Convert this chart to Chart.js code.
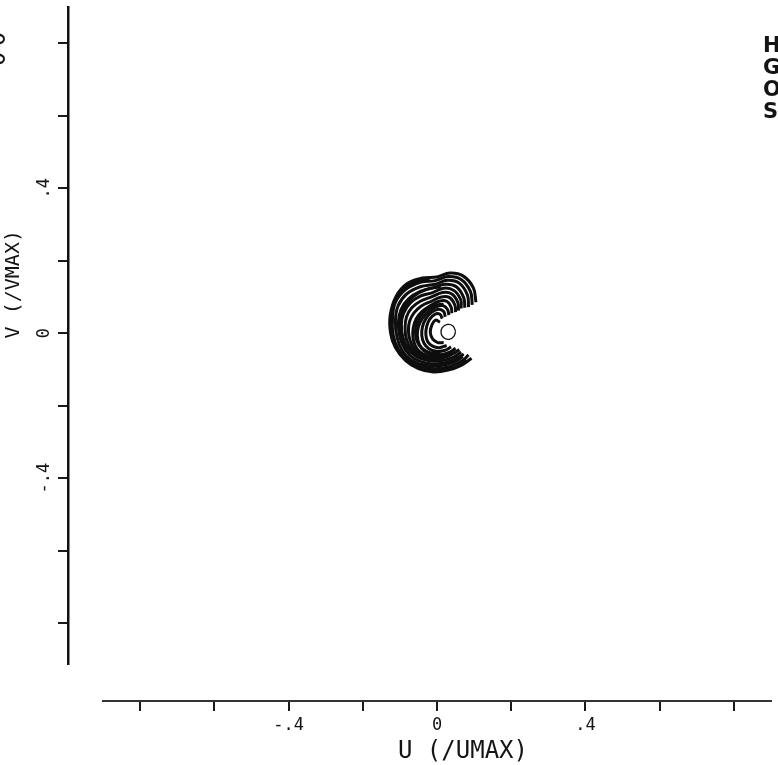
<!DOCTYPE html>
<html>
<head>
<meta charset="utf-8">
<script src="https://cdn.jsdelivr.net/npm/chart.js@4"></script>
<style>
  html, body { margin: 0; padding: 0; background: #fff; }
  #wrap { width: 778px; height: 765px; }
</style>
</head>
<body>
<div id="wrap"><canvas id="plot"></canvas></div>
<script>
// hodograph traces as [u, v] pairs, both normalised (U/UMAX, V/VMAX)
const arc1 = [[0.105, 0.085], [0.098, 0.125], [0.070, 0.158], [0.035, 0.166], [0.000, 0.155], [-0.040, 0.152], [-0.080, 0.137], [-0.110, 0.102], [-0.126, 0.050], [-0.125, 0.000], [-0.112, -0.040], [-0.085, -0.075], [-0.050, -0.098], [-0.010, -0.107], [0.030, -0.102], [0.065, -0.089], [0.093, -0.069]];
const arc1b = [[-0.020, 0.150], [-0.060, 0.141], [-0.095, 0.115], [-0.118, 0.075], [-0.124, 0.025], [-0.118, -0.022], [-0.098, -0.060], [-0.066, -0.088], [-0.028, -0.102], [0.012, -0.102], [0.050, -0.094], [0.080, -0.076]];
const arc2 = [[0.095, 0.078], [0.090, 0.115], [0.065, 0.148], [0.030, 0.156], [-0.005, 0.145], [-0.045, 0.140], [-0.085, 0.120], [-0.112, 0.085], [-0.120, 0.040], [-0.118, -0.005], [-0.104, -0.045], [-0.078, -0.075], [-0.045, -0.092], [-0.005, -0.098], [0.035, -0.092], [0.070, -0.075], [0.085, -0.060]];
const arc3 = [[0.085, 0.072], [0.082, 0.105], [0.060, 0.138], [0.028, 0.146], [-0.005, 0.135], [-0.045, 0.128], [-0.082, 0.108], [-0.105, 0.075], [-0.112, 0.035], [-0.108, -0.010], [-0.094, -0.048], [-0.070, -0.074], [-0.035, -0.088], [0.005, -0.090], [0.040, -0.082], [0.070, -0.065]];
const arc4 = [[0.075, 0.070], [0.072, 0.098], [0.052, 0.128], [0.022, 0.135], [-0.010, 0.125], [-0.045, 0.115], [-0.076, 0.095], [-0.097, 0.065], [-0.104, 0.030], [-0.100, -0.010], [-0.086, -0.045], [-0.062, -0.070], [-0.030, -0.082], [0.008, -0.084], [0.045, -0.074], [0.072, -0.058]];
const arc4b = [[0.010, 0.128], [-0.030, 0.120], [-0.065, 0.100], [-0.090, 0.068], [-0.100, 0.030], [-0.097, -0.008], [-0.082, -0.040], [-0.058, -0.062], [-0.025, -0.074], [0.010, -0.072]];
const arc5 = [[0.065, 0.068], [0.064, 0.092], [0.045, 0.118], [0.018, 0.124], [-0.012, 0.112], [-0.045, 0.102], [-0.072, 0.083], [-0.090, 0.055], [-0.096, 0.025], [-0.092, -0.012], [-0.078, -0.043], [-0.055, -0.064], [-0.025, -0.075], [0.010, -0.076], [0.045, -0.066], [0.065, -0.052]];
const arc6 = [[0.058, 0.062], [0.056, 0.085], [0.040, 0.108], [0.015, 0.112], [-0.015, 0.100], [-0.045, 0.088], [-0.068, 0.070], [-0.082, 0.045], [-0.086, 0.015], [-0.082, -0.018], [-0.068, -0.045], [-0.046, -0.062], [-0.018, -0.070], [0.015, -0.068], [0.045, -0.056], [0.060, -0.045]];
const arc7 = [[0.050, 0.058], [0.048, 0.078], [0.034, 0.098], [0.012, 0.100], [-0.015, 0.088], [-0.042, 0.075], [-0.062, 0.056], [-0.074, 0.032], [-0.077, 0.005], [-0.072, -0.022], [-0.060, -0.045], [-0.040, -0.060], [-0.014, -0.065], [0.015, -0.062], [0.040, -0.050]];
const arc8 = [[0.040, 0.055], [0.038, 0.072], [0.026, 0.088], [0.006, 0.088], [-0.018, 0.076], [-0.040, 0.060], [-0.056, 0.040], [-0.064, 0.015], [-0.065, -0.010], [-0.059, -0.034], [-0.046, -0.052], [-0.026, -0.062], [0.000, -0.064], [0.028, -0.058], [0.048, -0.044]];
const arc8b = [[0.018, 0.080], [-0.010, 0.075], [-0.035, 0.058], [-0.052, 0.034], [-0.058, 0.006], [-0.054, -0.022], [-0.040, -0.042], [-0.018, -0.054], [0.010, -0.055]];
const arc9 = [[0.032, 0.050], [0.028, 0.066], [0.016, 0.076], [-0.004, 0.072], [-0.024, 0.058], [-0.040, 0.040], [-0.050, 0.018], [-0.053, -0.006], [-0.048, -0.030], [-0.036, -0.048], [-0.016, -0.058], [0.008, -0.060], [0.032, -0.054], [0.050, -0.042]];
const arc10 = [[0.022, 0.045], [0.018, 0.060], [0.004, 0.066], [-0.014, 0.058], [-0.030, 0.040], [-0.039, 0.018], [-0.041, -0.006], [-0.035, -0.028], [-0.022, -0.043], [-0.002, -0.050], [0.020, -0.048], [0.038, -0.038]];
const arc11 = [[0.014, 0.040], [0.008, 0.052], [-0.006, 0.052], [-0.020, 0.038], [-0.028, 0.018], [-0.030, -0.004], [-0.025, -0.024], [-0.012, -0.036], [0.006, -0.040], [0.026, -0.034]];
const arc12 = [[0.008, 0.030], [-0.004, 0.036], [-0.014, 0.022], [-0.018, 0.002], [-0.012, -0.016], [0.002, -0.026], [0.018, -0.026]];
const loop = [[0.050, 0.005], [0.043, 0.020], [0.028, 0.024], [0.014, 0.015], [0.011, 0.000], [0.018, -0.013], [0.033, -0.017], [0.046, -0.008], [0.050, 0.005]];

const uTicks = [-0.8, -0.6, -0.4, -0.2, 0, 0.2, 0.4, 0.6, 0.8];
const uTickLabels = ['', '', '-.4', '', '0', '', '.4', '', ''];
const vTicks = [-0.8, -0.6, -0.4, -0.2, 0, 0.2, 0.4, 0.6, 0.8];
const vTickLabels = ['', '', '-.4', '', '0', '', '.4', '', ''];
const uTitle = 'U (/UMAX)';
const vTitle = 'V (/VMAX)';
const sideLetters = ['H', 'G', 'O', 'S'];
const edgeLetters = ['0', '0'];

const traces = [arc1, arc1b, arc2, arc3, arc4, arc4b, arc5, arc6, arc7, arc8, arc8b, arc9, arc10, arc11, arc12, loop];

const datasets = traces.map(pts => ({
  data: pts.map(([u, v]) => ({ x: u, y: v })),
  xAxisID: 'x',
  yAxisID: 'y',
  showLine: true,
  fill: false,
  tension: 0.4,
  borderColor: '#0e0e0e',
  borderWidth: pts === loop ? 1.3 : 3,
  pointRadius: 0,
  pointHoverRadius: 0
}));

const mono = 'DejaVu Sans Mono';

// axis titles and the clipped captions at the page edges
const captions = {
  id: 'captions',
  afterDraw(chart) {
    const { ctx, scales: { x, y } } = chart;
    ctx.save();
    ctx.fillStyle = '#141414';
    ctx.textAlign = 'center';
    ctx.textBaseline = 'middle';

    ctx.font = '24px "' + mono + '"';
    ctx.fillText(uTitle, x.getPixelForValue(0.07), 752);

    ctx.save();
    ctx.translate(14, y.getPixelForValue(0.135));
    ctx.rotate(-Math.PI / 2);
    ctx.font = '20px "' + mono + '"';
    ctx.fillText(vTitle, 0, 0);
    ctx.restore();

    edgeLetters.forEach((ch, i) => {
      ctx.save();
      ctx.translate(-1, 59 - i * 20);
      ctx.rotate(-Math.PI / 2);
      ctx.font = '24px "' + mono + '"';
      ctx.fillText(ch, 0, 0);
      ctx.restore();
    });

    ctx.textAlign = 'left';
    ctx.font = 'bold 21px "DejaVu Sans"';
    sideLetters.forEach((ch, i) => {
      ctx.fillText(ch, 763, 47 + i * 21.7);
    });
    ctx.restore();
  }
};

new Chart(document.getElementById('plot'), {
  type: 'scatter',
  data: { datasets },
  plugins: [captions],
  options: {
    responsive: true,
    maintainAspectRatio: false,
    animation: false,
    layout: { padding: { left: 0, right: 7, top: 7, bottom: 0 } },
    plugins: { legend: { display: false }, tooltip: { enabled: false } },
    scales: {
      x: {
        type: 'linear',
        axis: 'x',
        position: 'bottom',
        weight: 1,
        min: -0.9,
        max: 0.9,
        afterBuildTicks: s => { s.ticks = uTicks.map(value => ({ value })); },
        afterFit: s => { s.height = 64; s.paddingLeft = 0; s.paddingRight = 0; },
        ticks: {
          autoSkip: false,
          minRotation: 0,
          maxRotation: 0,
          padding: 4,
          color: '#141414',
          font: { family: mono, size: 17 },
          callback: (val, i) => uTickLabels[i]
        },
        grid: { drawOnChartArea: false, drawTicks: true, tickLength: 10, color: '#1a1a1a', lineWidth: 2 },
        border: { display: true, color: '#333', width: 2 }
      },
      xGap: {
        type: 'linear',
        axis: 'x',
        position: 'bottom',
        weight: 0,
        ticks: { display: false },
        grid: { display: false },
        border: { display: false },
        afterFit: s => { s.height = 37; }
      },
      y: {
        type: 'linear',
        axis: 'y',
        position: 'left',
        weight: 1,
        min: -0.913,
        max: 0.9,
        afterBuildTicks: s => { s.ticks = vTicks.map(value => ({ value })); },
        afterFit: s => { s.width = 68; s.paddingTop = 0; s.paddingBottom = 0; },
        ticks: {
          autoSkip: false,
          minRotation: 90,
          maxRotation: 90,
          crossAlign: 'center',
          padding: -2,
          color: '#141414',
          font: { family: mono, size: 17 },
          callback: (val, i) => vTickLabels[i]
        },
        grid: { drawOnChartArea: false, drawTicks: true, tickLength: 10, color: '#1a1a1a', lineWidth: 2 },
        border: { display: true, color: '#111', width: 2.5 }
      },
      yGap: {
        type: 'linear',
        axis: 'y',
        position: 'left',
        weight: 0,
        ticks: { display: false },
        grid: { display: false },
        border: { display: false },
        afterFit: s => { s.width = 35; }
      }
    }
  }
});
</script>
</body>
</html>
